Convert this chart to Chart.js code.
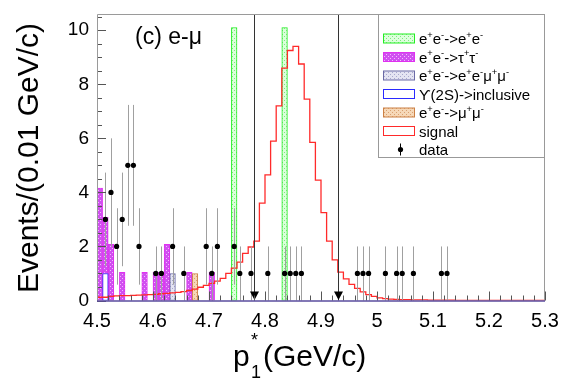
<!DOCTYPE html>
<html lang="en">
<head>
<meta charset="UTF-8">
<title>p1* distribution, e-mu</title>
<script src="https://cdn.jsdelivr.net/npm/chart.js"></script>
<style>
  body { margin: 0; background: #fff; }
  canvas { display: block; }
</style>
</head>
<body>
<canvas id="chart" width="562" height="383"></canvas>
<script>
// binning: 80 bins of 0.01 GeV/c from 4.5 to 5.3
const binLow = 4.5, binW = 0.01, nBins = 80;
const xTicks = [4.5, 4.6, 4.7, 4.8, 4.9, 5.0, 5.1, 5.2, 5.3];
const xTickLabels = ['4.5', '4.6', '4.7', '4.8', '4.9', '5', '5.1', '5.2', '5.3'];
const yTicks = [0, 2, 4, 6, 8, 10];
const cuts = [4.78, 4.93];

// stacked MC backgrounds (events per bin)
const eeToEE = [
  0, 0, 0, 0, 0, 0, 0, 0, 0, 0,
  0, 0, 0, 0, 0, 0, 0, 0, 0, 0,
  0, 0, 0, 0, 10.1, 0, 0, 0, 0, 0,
  0, 0, 0, 10.1, 0, 0, 0, 0, 0, 0,
  0, 0, 0, 0, 0, 0, 0, 0, 0, 0,
  0, 0, 0, 0, 0, 0, 0, 0, 0, 0,
  0, 0, 0, 0, 0, 0, 0, 0, 0, 0,
  0, 0, 0, 0, 0, 0, 0, 0, 0, 0
];
const eeToTauTau = [
  4.16, 2.08, 2.08, 0, 1.04, 0, 0, 0, 1.04, 0,
  1.04, 1.04, 2.08, 0, 0, 0, 1.04, 0, 0, 0,
  1.04, 0, 0, 0, 0, 0, 0, 0, 0, 0,
  0, 0, 0, 0, 0, 0, 0, 0, 0, 0,
  0, 0, 0, 0, 0, 0, 0, 0, 0, 0,
  0, 0, 0, 0, 0, 0, 0, 0, 0, 0,
  0, 0, 0, 0, 0, 0, 0, 0, 0, 0,
  0, 0, 0, 0, 0, 0, 0, 0, 0, 0
];
const eeToEEMuMu = [
  0, 0, 0, 0, 0, 0, 0, 0, 0, 0,
  0, 0, 0, 1.0, 0, 0, 0, 0, 0, 0,
  0, 0, 0, 0, 0, 0, 0, 0, 0, 0,
  0, 0, 0, 0, 0, 0, 0, 0, 0, 0,
  0, 0, 0, 0, 0, 0, 0, 0, 0, 0,
  0, 0, 0, 0, 0, 0, 0, 0, 0, 0,
  0, 0, 0, 0, 0, 0, 0, 0, 0, 0,
  0, 0, 0, 0, 0, 0, 0, 0, 0, 0
];
const ups2SIncl = [
  0, 1.0, 0, 0, 0, 0, 0, 0, 0, 0,
  0, 0, 0, 0, 0, 0, 0, 0, 0, 0,
  0, 0, 0, 0, 0, 0, 0, 0, 0, 0,
  0, 0, 0, 0, 0, 0, 0, 0, 0, 0,
  0, 0, 0, 0, 0, 0, 0, 0, 0, 0,
  0, 0, 0, 0, 0, 0, 0, 0, 0, 0,
  0, 0, 0, 0, 0, 0, 0, 0, 0, 0,
  0, 0, 0, 0, 0, 0, 0, 0, 0, 0
];
const eeToMuMu = [
  0, 0, 0, 0, 0, 0, 0, 0, 0, 0,
  0, 0, 0, 0, 0, 0, 0, 1.0, 0, 0,
  0, 0, 0, 0, 0, 0, 0, 0, 0, 0,
  0, 0, 0, 0, 0, 0, 0, 0, 0, 0,
  0, 0, 0, 0, 0, 0, 0, 0, 0, 0,
  0, 0, 0, 0, 0, 0, 0, 0, 0, 0,
  0, 0, 0, 0, 0, 0, 0, 0, 0, 0,
  0, 0, 0, 0, 0, 0, 0, 0, 0, 0
];
// signal MC (drawn as outline, not stacked)
const signal = [
  0.12, 0.12, 0.15, 0.17, 0.18, 0.18, 0.19, 0.20, 0.21, 0.22,
  0.23, 0.25, 0.26, 0.28, 0.30, 0.33, 0.37, 0.42, 0.49, 0.56,
  0.63, 0.72, 0.82, 1.00, 1.20, 1.42, 1.74, 1.98, 2.20, 3.60,
  4.65, 5.90, 7.20, 8.60, 9.25, 9.40, 8.75, 7.45, 5.85, 4.45,
  3.25, 2.20, 1.50, 1.05, 0.80, 0.60, 0.45, 0.32, 0.22, 0.15,
  0.10, 0.07, 0.05, 0.04, 0.03, 0.03, 0.02, 0.02, 0.02, 0.01,
  0.01, 0.01, 0.01, 0.01, 0, 0, 0, 0, 0, 0,
  0, 0, 0, 0, 0, 0, 0, 0, 0, 0
];
// observed events
const dataCounts = [
  0, 3, 4, 2, 3, 5, 5, 2, 0, 0,
  1, 1, 0, 2, 0, 1, 0, 0, 0, 2,
  1, 2, 0, 0, 2, 1, 0, 1, 0, 0,
  1, 0, 0, 1, 1, 1, 1, 0, 0, 0,
  0, 0, 0, 0, 0, 0, 1, 1, 1, 0,
  0, 1, 0, 1, 1, 0, 1, 0, 0, 0,
  0, 1, 1, 0, 0, 0, 0, 0, 0, 0,
  0, 0, 0, 0, 0, 0, 0, 0, 0, 0
];

const FONT = "'Liberation Sans', Arial, Helvetica, sans-serif";
const binCenters = Array.from({length: nBins}, (_, i) => +(binLow + (i + 0.5) * binW).toFixed(3));
const binEdges = Array.from({length: nBins + 1}, (_, i) => +(binLow + i * binW).toFixed(2));

const canvas = document.getElementById('chart');
const ctx = canvas.getContext('2d');

function makePattern(bg, dot) {
  const c = document.createElement('canvas');
  c.width = 4; c.height = 4;
  const g = c.getContext('2d');
  g.fillStyle = bg; g.fillRect(0, 0, 4, 4);
  g.fillStyle = dot; g.fillRect(0, 0, 1, 1); g.fillRect(2, 2, 1, 1);
  return ctx.createPattern(c, 'repeat');
}

const styles = {
  ee:     {fill: makePattern('#dcffdc', '#7ee87e'), line: '#22ee22'},
  tau:    {fill: makePattern('#d050f0', '#f6b8ff'), line: '#e030f0'},
  eemumu: {fill: makePattern('#e4e4f2', '#a8a8cc'), line: '#6a6aa6'},
  ups:    {fill: '#ffffff', line: '#2a2aff'},
  mumu:   {fill: makePattern('#f6d8b8', '#d9a070'), line: '#cc8044'}
};

function hist(arr) {
  return binCenters.map((x, i) => ({x: x, y: arr[i] ? arr[i] : null}));
}
function barSet(label, arr, st, order) {
  return {
    label: label, data: hist(arr), order: order,
    backgroundColor: st.fill, borderColor: st.line, borderWidth: 1,
    borderSkipped: false, categoryPercentage: 1, barPercentage: 1
  };
}

const datasets = [
  {
    type: 'line', label: 'data', order: 0, yAxisID: 'y2', showLine: false,
    data: binCenters.map((x, i) => ({x: x, y: dataCounts[i]})).filter(p => p.y > 0),
    pointRadius: 2.6, pointBackgroundColor: '#000', pointBorderWidth: 0
  },
  {
    type: 'line', label: 'signal', order: 1, yAxisID: 'y2',
    data: binEdges.map((x, i) => ({x: x, y: signal[Math.min(i, nBins - 1)]})),
    stepped: true, borderColor: '#ff2a2a', borderWidth: 1.3, pointRadius: 0, fill: false
  },
  barSet('ups', ups2SIncl, styles.ups, 2),
  barSet('eemumu', eeToEEMuMu, styles.eemumu, 3),
  barSet('mumu', eeToMuMu, styles.mumu, 4),
  barSet('tau', eeToTauTau, styles.tau, 5),
  barSet('ee', eeToEE, styles.ee, 6)
];
const DATA_IDX = 0;

// draw text with ^{..} and _{..} pieces
function drawRich(g, str, x, y, size) {
  const parts = [];
  let i = 0;
  while (i < str.length) {
    if ((str[i] === '^' || str[i] === '_') && str[i + 1] === '{') {
      const end = str.indexOf('}', i);
      parts.push({t: str.slice(i + 2, end), k: str[i]});
      i = end + 1;
    } else {
      let j = i;
      while (j < str.length && !((str[j] === '^' || str[j] === '_') && str[j + 1] === '{')) j++;
      parts.push({t: str.slice(i, j), k: ''});
      i = j;
    }
  }
  let cx = x;
  parts.forEach(p => {
    const s = p.k ? size * 0.62 : size;
    g.font = s + 'px ' + FONT;
    const dy = p.k === '^' ? -size * 0.42 : (p.k === '_' ? size * 0.25 : 0);
    g.fillText(p.t, cx, y + dy);
    cx += g.measureText(p.t).width;
  });
}

const legendItems = [
  {text: 'e^{+}e^{-}->e^{+}e^{-}', st: styles.ee},
  {text: 'e^{+}e^{-}->\u03c4^{+}\u03c4^{-}', st: styles.tau},
  {text: 'e^{+}e^{-}->e^{+}e^{-}\u03bc^{+}\u03bc^{-}', st: styles.eemumu},
  {text: '\u03d2(2S)->inclusive', st: styles.ups},
  {text: 'e^{+}e^{-}->\u03bc^{+}\u03bc^{-}', st: styles.mumu},
  {text: 'signal', st: {fill: '#fff', line: '#ff2a2a'}},
  {text: 'data', st: null}
];

const overlay = {
  id: 'overlay',
  beforeDatasetDraw(chart, args) {
    if (args.index !== DATA_IDX) return;
    const {ctx: g, scales: {x, y2}} = chart;
    g.save();
    g.strokeStyle = '#a0a0a0';
    g.lineWidth = 1;
    dataCounts.forEach((n, i) => {
      if (!n) return;
      const px = Math.round(x.getPixelForValue(binCenters[i])) + 0.5;
      const e = Math.sqrt(n);
      g.beginPath();
      g.moveTo(px, y2.getPixelForValue(n - e));
      g.lineTo(px, y2.getPixelForValue(n + e));
      g.stroke();
    });
    g.restore();
  },
  afterDatasetsDraw(chart) {
    const {ctx: g, chartArea: a, scales: {x, y}} = chart;
    g.save();

    // cut lines with arrows
    cuts.forEach(c => {
      const px = Math.round(x.getPixelForValue(c)) + 0.5;
      g.strokeStyle = '#333';
      g.lineWidth = 1;
      g.beginPath(); g.moveTo(px, a.top); g.lineTo(px, a.bottom); g.stroke();
      g.fillStyle = '#000';
      g.beginPath();
      g.moveTo(px - 4.5, a.bottom - 9); g.lineTo(px + 4.5, a.bottom - 9); g.lineTo(px, a.bottom - 0.5);
      g.closePath(); g.fill();
    });

    // ticks inside the frame
    g.strokeStyle = '#555';
    g.lineWidth = 1;
    for (let v = 0; v <= 10.5; v += 0.5) {
      const py = Math.round(y.getPixelForValue(v)) + 0.5;
      const len = (v % 2 === 0) ? 9 : 5;
      g.beginPath(); g.moveTo(a.left, py); g.lineTo(a.left + len, py); g.stroke();
    }
    for (let k = 0; k <= 40; k++) {
      const v = binLow + k * 0.02;
      const px = Math.round(x.getPixelForValue(v)) + 0.5;
      const len = (k % 5 === 0) ? 9 : 5;
      g.beginPath(); g.moveTo(px, a.bottom); g.lineTo(px, a.bottom - len); g.stroke();
    }

    // frame
    g.strokeStyle = '#9a9a9a';
    g.beginPath();
    g.moveTo(a.left + 0.5, a.bottom); g.lineTo(a.left + 0.5, a.top + 0.5);
    g.lineTo(a.right - 0.5, a.top + 0.5); g.lineTo(a.right - 0.5, a.bottom);
    g.stroke();
    g.strokeStyle = '#5a4d9e';
    g.lineWidth = 1.5;
    g.beginPath(); g.moveTo(a.left, a.bottom + 0.5); g.lineTo(a.right, a.bottom + 0.5); g.stroke();

    // legend box
    const lx = 378, ly = a.top, lw = a.right - 378, lh = 144;
    g.fillStyle = '#fff';
    g.fillRect(lx, ly, lw, lh);
    g.strokeStyle = '#999';
    g.lineWidth = 1;
    g.strokeRect(lx + 0.5, ly + 0.5, lw - 1, lh - 1);
    legendItems.forEach((it, i) => {
      const cy = 38.5 + i * 18.5;
      if (it.st) {
        g.fillStyle = it.st.fill;
        g.fillRect(383, cy - 4.5, 31, 9);
        g.strokeStyle = it.st.line;
        g.strokeRect(383.5, cy - 4.5, 31, 9);
      } else {
        g.strokeStyle = '#000';
        g.beginPath(); g.moveTo(400.5, cy - 6); g.lineTo(400.5, cy + 6); g.stroke();
        g.fillStyle = '#000';
        g.beginPath(); g.arc(400.5, cy, 2.6, 0, Math.PI * 2); g.fill();
      }
      g.fillStyle = '#000';
      g.textAlign = 'left';
      g.textBaseline = 'alphabetic';
      drawRich(g, it.text, 419, cy + 5.5, 15);
    });

    // panel label
    g.fillStyle = '#000';
    g.font = '23px ' + FONT;
    g.fillText('(c) e-\u03bc', 135, 44);
    g.restore();
  },
  afterDraw(chart) {
    const g = chart.ctx;
    g.save();
    g.fillStyle = '#000';
    g.textBaseline = 'alphabetic';
    // x title
    g.textAlign = 'left';
    g.font = '30px ' + FONT;
    g.fillText('p', 233, 366);
    g.font = '18px ' + FONT;
    g.fillText('1', 251, 378);
    g.fillText('*', 251, 346);
    g.font = '30px ' + FONT;
    g.fillText('(GeV/c)', 263, 366);
    // y title
    g.translate(38, 158);
    g.rotate(-Math.PI / 2);
    g.textAlign = 'center';
    g.font = '30px ' + FONT;
    g.fillText('Events/(0.01 GeV/c)', 0, 0);
    g.restore();
  }
};

Chart.defaults.font.family = FONT;
Chart.defaults.color = '#000';

new Chart(ctx, {
  type: 'bar',
  data: {datasets: datasets},
  options: {
    responsive: false,
    animation: false,
    devicePixelRatio: 1,
    layout: {padding: {left: 0, right: 17, top: 14, bottom: 0}},
    plugins: {legend: {display: false}, tooltip: {enabled: false}},
    scales: {
      x: {
        type: 'linear', min: 4.5, max: 5.3, stacked: true, offset: false,
        afterBuildTicks: s => { s.ticks = xTicks.map(v => ({value: v})); },
        afterFit: s => { s.height = 82.5; s.paddingLeft = 0; s.paddingRight = 0; },
        ticks: {
          font: {size: 20}, padding: 9, maxRotation: 0, autoSkip: false,
          callback: v => xTickLabels[xTicks.findIndex(t => Math.abs(t - v) < 1e-6)]
        },
        grid: {display: false, drawTicks: false},
        border: {display: false}
      },
      y: {
        min: 0, max: 10.6, stacked: true,
        afterBuildTicks: s => { s.ticks = yTicks.map(v => ({value: v})); },
        afterFit: s => { s.width = 97; s.paddingTop = 0; s.paddingBottom = 0; },
        ticks: {font: {size: 19}, padding: 8},
        grid: {display: false, drawTicks: false},
        border: {display: false}
      },
      y2: {min: 0, max: 10.6, display: false}
    }
  },
  plugins: [overlay]
});
</script>
</body>
</html>
